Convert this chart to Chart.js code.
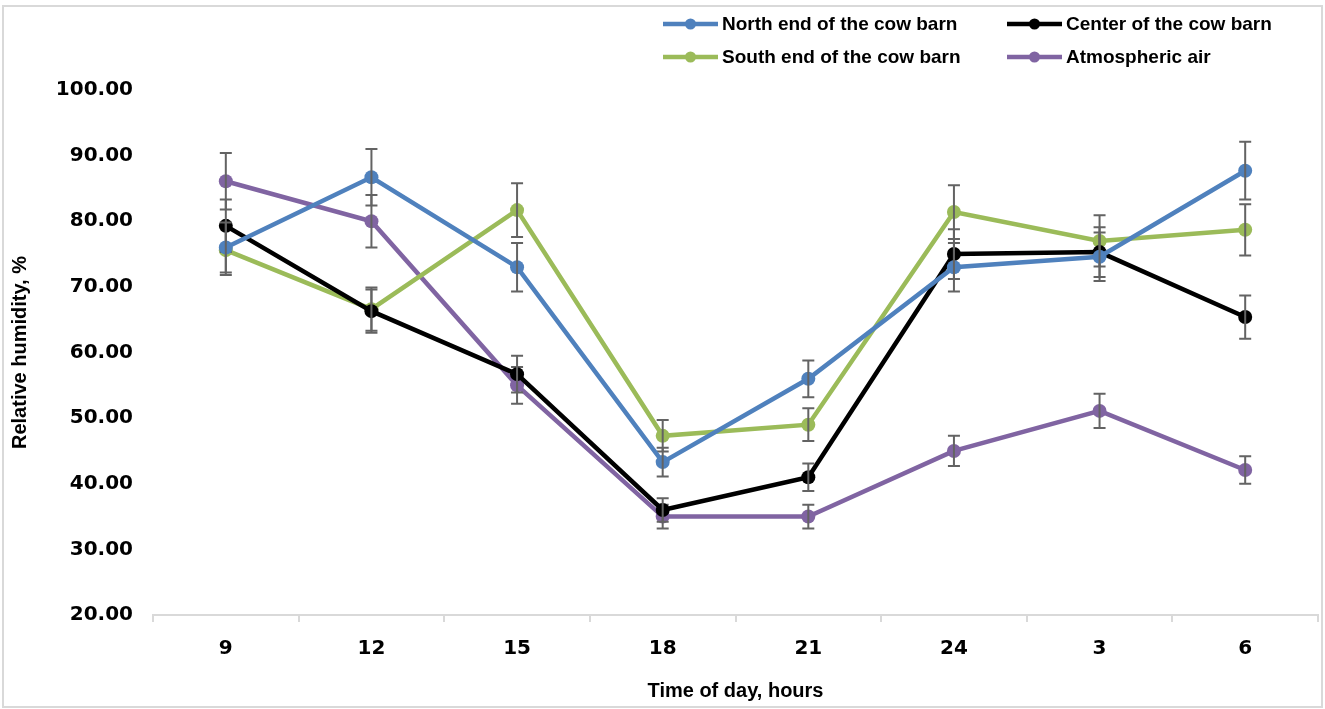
<!DOCTYPE html>
<html>
<head>
<meta charset="utf-8">
<script src="https://cdn.jsdelivr.net/npm/chart.js@4.4.1/dist/chart.umd.min.js"></script>
<style>
  html, body { margin: 0; padding: 0; background: #fff; }
  #wrap { width: 1325px; height: 709px; position: relative; }
</style>
</head>
<body>
<div id="wrap"><canvas id="rh"></canvas></div>
<script>
const hours = ['9', '12', '15', '18', '21', '24', '3', '6'];

const northEnd = [76.0, 86.7, 73.0, 43.3, 56.0, 73.0, 74.6, 87.7];
const centerBarn = [79.3, 66.3, 56.7, 36.0, 41.0, 75.0, 75.3, 65.4];
const southEnd = [75.6, 66.6, 81.7, 47.3, 49.0, 81.4, 77.0, 78.7];
const atmosphericAir = [86.1, 80.0, 55.0, 35.0, 35.0, 45.0, 51.1, 42.1];

// +/- error read from the whiskers
const northErr = [3.8, 4.3, 3.7, 2.2, 2.8, 3.7, 3.7, 4.4];
const centerErr = [4.0, 3.3, 2.8, 1.8, 2.1, 3.8, 3.8, 3.3];
const southErr = [3.8, 3.3, 4.1, 2.4, 2.5, 4.1, 3.9, 3.9];
const atmosErr = [4.3, 4.0, 2.8, 1.8, 1.8, 2.3, 2.6, 2.1];

const yTicks = [20, 30, 40, 50, 60, 70, 80, 90, 100];

const tickFont = { family: '"DejaVu Sans", sans-serif', size: 20, weight: 'bold' };
const titleFont = { family: '"Liberation Sans", Arial, sans-serif', size: 20, weight: 'bold' };

function series(label, data, err, color) {
  return {
    label,
    data,
    errors: err,
    borderColor: color,
    backgroundColor: color,
    pointBackgroundColor: color,
    pointBorderColor: color,
    borderWidth: 4.5,
    pointRadius: 7,
    pointHoverRadius: 7,
    pointBorderWidth: 0,
    tension: 0
  };
}

const errorBars = {
  id: 'errorBars',
  afterDatasetDraw(chart, args) {
    const ds = chart.data.datasets[args.index];
    if (!ds.errors) return;
    const { ctx, scales: { x, y } } = chart;
    ctx.save();
    ctx.strokeStyle = '#636363';
    ctx.lineWidth = 2;
    ds.data.forEach((v, i) => {
      const px = x.getPixelForValue(i);
      const top = y.getPixelForValue(v + ds.errors[i]);
      const bot = y.getPixelForValue(v - ds.errors[i]);
      ctx.beginPath();
      ctx.moveTo(px, top); ctx.lineTo(px, bot);
      ctx.moveTo(px - 6, top); ctx.lineTo(px + 6, top);
      ctx.moveTo(px - 6, bot); ctx.lineTo(px + 6, bot);
      ctx.stroke();
    });
    ctx.restore();
  }
};

// two-column legend in the top right corner
const gridLegend = {
  id: 'gridLegend',
  afterDraw(chart) {
    const ctx = chart.ctx;
    const cols = [663, 1007];
    const rows = [24, 57];
    ctx.save();
    ctx.font = 'bold 19px "Liberation Sans", Arial, sans-serif';
    ctx.textBaseline = 'middle';
    chart.data.datasets.forEach((ds, i) => {
      const x = cols[i % 2];
      const y = rows[Math.floor(i / 2)];
      ctx.strokeStyle = ds.borderColor;
      ctx.lineWidth = 4.5;
      ctx.beginPath();
      ctx.moveTo(x, y); ctx.lineTo(x + 55, y);
      ctx.stroke();
      ctx.fillStyle = ds.borderColor;
      ctx.beginPath();
      ctx.arc(x + 27.5, y, 5.5, 0, Math.PI * 2);
      ctx.fill();
      ctx.fillStyle = '#000';
      ctx.fillText(ds.label, x + 59, y + 1);
    });
    ctx.restore();
  }
};

const outerBorder = {
  id: 'outerBorder',
  afterDraw(chart) {
    const ctx = chart.ctx;
    ctx.save();
    ctx.strokeStyle = '#d9d9d9';
    ctx.lineWidth = 2;
    ctx.strokeRect(3, 6, 1319, 701);
    ctx.restore();
  }
};

new Chart(document.getElementById('rh'), {
  type: 'line',
  data: {
    labels: hours,
    datasets: [
      series('North end of the cow barn', northEnd, northErr, '#4f81bd'),
      series('Center of the cow barn', centerBarn, centerErr, '#000000'),
      series('South end of the cow barn', southEnd, southErr, '#9bbb59'),
      series('Atmospheric air', atmosphericAir, atmosErr, '#8064a2')
    ]
  },
  options: {
    responsive: true,
    maintainAspectRatio: false,
    animation: false,
    layout: { padding: { top: 90, right: 3, left: 0, bottom: 0 } },
    plugins: {
      legend: { display: false },
      tooltip: { enabled: false }
    },
    scales: {
      x: {
        offset: true,
        grid: { display: true, drawOnChartArea: false, offset: true, tickLength: 7, color: '#d9d9d9', lineWidth: 2 },
        border: { display: true, color: '#d9d9d9', width: 2 },
        ticks: { color: '#000', font: tickFont, padding: 15 },
        title: { display: true, text: 'Time of day, hours', color: '#000', font: titleFont, padding: { top: 8, bottom: 6 } },
        afterFit: (s) => { s.height = 94; }
      },
      y: {
        min: yTicks[0],
        max: yTicks[yTicks.length - 1],
        afterBuildTicks: (s) => { s.ticks = yTicks.map(v => ({ value: v })); },
        grid: { display: false },
        border: { display: false },
        ticks: { color: '#000', font: tickFont, padding: 12, callback: (v) => Number(v).toFixed(2) },
        title: { display: true, text: 'Relative humidity, %', color: '#000', font: titleFont, padding: { top: 8, bottom: 0 } },
        afterFit: (s) => { s.width = 153; }
      }
    }
  },
  plugins: [errorBars, gridLegend, outerBorder]
});
</script>
</body>
</html>
